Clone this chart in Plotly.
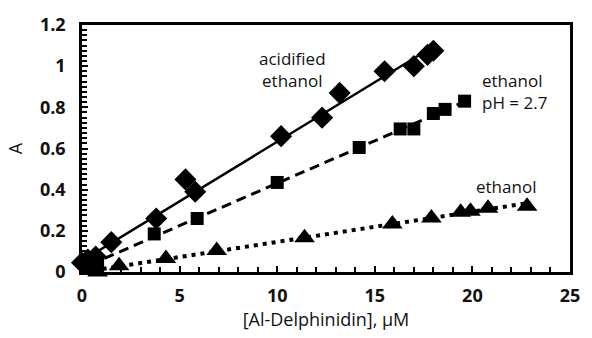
import numpy as np
import plotly.graph_objects as go

# acidified ethanol (diamonds, solid line)
acid_x = [0.0, 0.3, 0.5, 0.7, 1.5, 3.8, 5.3, 5.8, 10.2, 12.3, 13.2, 15.5, 17.0, 17.7, 18.0]
acid_y = [0.045, 0.06, 0.05, 0.075, 0.145, 0.26, 0.45, 0.39, 0.66, 0.75, 0.87, 0.975, 1.0, 1.055, 1.075]

# ethanol pH = 2.7 (squares, dashed line)
ph_x = [0.4, 0.6, 0.8, 3.7, 5.9, 10.0, 14.2, 16.3, 17.0, 18.0, 18.6, 19.6]
ph_y = [0.03, 0.04, 0.05, 0.185, 0.26, 0.435, 0.605, 0.695, 0.695, 0.77, 0.79, 0.83]

# ethanol (triangles, dotted line)
eth_x = [0.6, 0.8, 1.9, 4.3, 6.9, 11.4, 15.9, 17.9, 19.4, 19.9, 20.8, 22.8]
eth_y = [0.01, 0.0, 0.03, 0.065, 0.105, 0.167, 0.233, 0.262, 0.29, 0.295, 0.31, 0.32]

x_ticks = [0, 5, 10, 15, 20, 25]
y_ticks = [0, 0.2, 0.4, 0.6, 0.8, 1.0, 1.2]
y_tick_text = ["0", "0.2", "0.4", "0.6", "0.8", "1", "1.2"]

FONT = "Open Sans"

fig = go.Figure()

def add_series(xs, ys, symbol, size, dash, width):
    k, b = np.polyfit(xs, ys, 1)
    lx = np.array([min(xs), max(xs)])
    fig.add_trace(go.Scatter(x=lx, y=k * lx + b, mode="lines",
                             line=dict(color="black", width=width, dash=dash),
                             showlegend=False, hoverinfo="skip"))
    fig.add_trace(go.Scatter(x=xs, y=ys, mode="markers",
                             marker=dict(symbol=symbol, size=size, color="black"),
                             showlegend=False, cliponaxis=False))

add_series(acid_x, acid_y, "diamond", 17, "solid", 2.5)
add_series(ph_x, ph_y, "square", 13, "10px,6px", 3)
add_series(eth_x, eth_y, "triangle-up", 18, "4px,5px", 4)

ann_font = dict(family=FONT, size=17, color="#111")
fig.add_annotation(x=10.8, y=0.985, text="acidified<br>ethanol", showarrow=False,
                   xanchor="center", yanchor="middle", align="center", font=ann_font)
fig.add_annotation(x=20.4, y=0.875, text="ethanol<br>pH = 2.7", showarrow=False,
                   xanchor="left", yanchor="middle", align="left", font=ann_font)
fig.add_annotation(x=20.1, y=0.415, text="ethanol", showarrow=False,
                   xanchor="left", yanchor="middle", align="left", font=ann_font)

axis_common = dict(showline=True, linecolor="black", linewidth=2.5, mirror=True,
                   ticks="inside", ticklen=6, tickwidth=2, tickcolor="black",
                   showgrid=False, zeroline=False,
                   tickfont=dict(family=FONT, size=18, color="#111", weight="bold"))

fig.update_xaxes(range=[0, 25], tickvals=x_ticks,
                 title=dict(text="[Al-Delphinidin], µM", font=dict(family=FONT, size=18, color="#111"), standoff=5),
                 minor=dict(ticks="inside", dtick=1, ticklen=5, tickwidth=2, tickcolor="black"),
                 ticklabelstandoff=6, **axis_common)
fig.update_yaxes(range=[0, 1.2], tickvals=y_ticks, ticktext=y_tick_text,
                 title=dict(text="A", font=dict(family=FONT, size=18, color="#111"), standoff=13),
                 minor=dict(ticks="inside", dtick=0.025, ticklen=5, tickwidth=2, tickcolor="black"),
                 ticklabelstandoff=10, **axis_common)

fig.update_layout(width=592, height=338, margin=dict(l=82, r=12, t=20, b=66),
                  paper_bgcolor="white", plot_bgcolor="white")

fig.write_html("out.html")
